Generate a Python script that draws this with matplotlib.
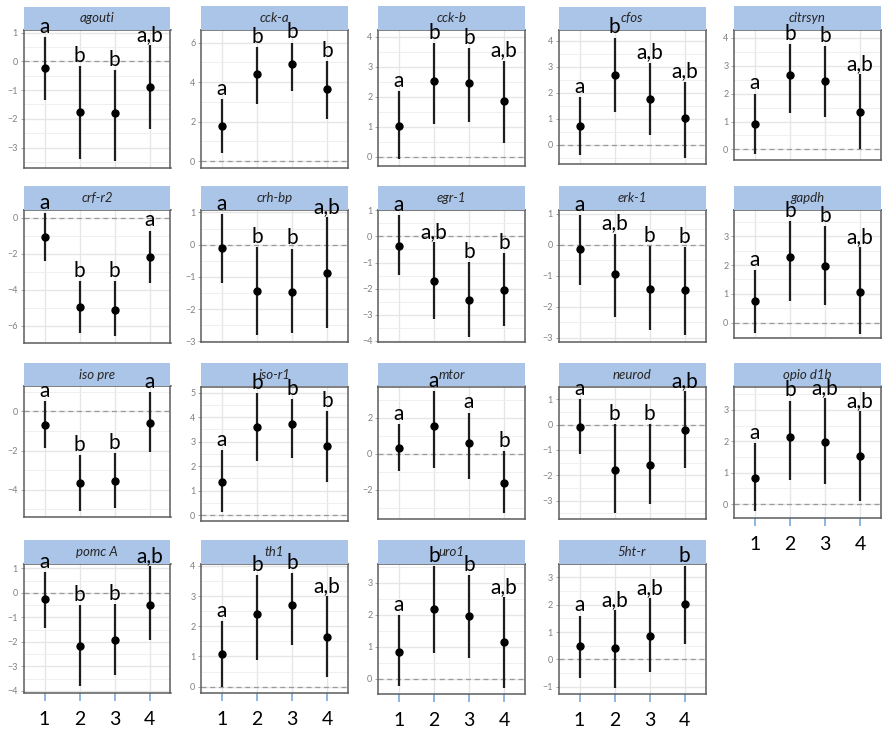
import matplotlib.pyplot as plt
from matplotlib.patches import Rectangle
from matplotlib.ticker import MultipleLocator

plt.rcParams['font.family'] = ['Lato', 'DejaVu Sans']

groups = [1, 2, 3, 4]
genes = ['agouti', 'cck-a', 'cck-b', 'cfos', 'citrsyn',
         'crf-r2', 'crh-bp', 'egr-1', 'erk-1', 'gapdh',
         'iso pre', 'iso-r1', 'mtor', 'neurod', 'opio d1b',
         'pomc A', 'th1', 'uro1', '5ht-r']

# estimate for each group, per gene
means = [
    [-0.22, -1.75, -1.81, -0.90],
    [1.78, 4.40, 4.92, 3.67],
    [1.04, 2.52, 2.47, 1.86],
    [0.72, 2.68, 1.76, 1.03],
    [0.91, 2.66, 2.45, 1.35],
    [-1.06, -4.95, -5.10, -2.19],
    [-0.10, -1.45, -1.47, -0.88],
    [-0.35, -1.71, -2.43, -2.05],
    [-0.15, -0.94, -1.42, -1.47],
    [0.74, 2.28, 1.97, 1.07],
    [-0.68, -3.66, -3.54, -0.59],
    [1.36, 3.59, 3.72, 2.83],
    [0.34, 1.54, 0.58, -1.62],
    [-0.09, -1.80, -1.58, -0.22],
    [0.84, 2.15, 1.99, 1.52],
    [-0.26, -2.18, -1.91, -0.48],
    [1.07, 2.40, 2.70, 1.65],
    [0.85, 2.17, 1.96, 1.16],
    [0.49, 0.40, 0.86, 2.01],
]
ci_low = [
    [-1.36, -3.40, -3.46, -2.34],
    [0.39, 2.91, 3.55, 2.13],
    [-0.08, 1.11, 1.17, 0.47],
    [-0.41, 1.25, 0.37, -0.50],
    [-0.17, 1.29, 1.17, 0.00],
    [-2.37, -6.39, -6.54, -3.61],
    [-1.19, -2.81, -2.74, -2.58],
    [-1.47, -3.15, -3.83, -3.41],
    [-1.29, -2.34, -2.74, -2.92],
    [-0.37, 0.76, 0.60, -0.41],
    [-1.88, -5.09, -4.94, -2.08],
    [0.11, 2.21, 2.32, 1.36],
    [-0.97, -0.78, -1.40, -3.26],
    [-1.17, -3.48, -3.15, -1.73],
    [-0.22, 0.76, 0.65, 0.10],
    [-1.43, -3.81, -3.35, -1.91],
    [0.00, 0.88, 1.38, 0.33],
    [-0.21, 0.82, 0.64, -0.27],
    [-0.67, -1.04, -0.45, 0.56],
]
ci_high = [
    [0.85, -0.16, -0.30, 0.56],
    [3.15, 5.78, 6.00, 5.08],
    [2.19, 3.79, 3.62, 3.20],
    [1.82, 4.12, 3.16, 2.43],
    [2.00, 3.77, 3.70, 2.70],
    [0.24, -3.49, -3.49, -0.71],
    [0.94, -0.07, -0.12, 0.85],
    [0.81, -0.22, -0.98, -0.64],
    [0.95, 0.35, -0.05, -0.08],
    [1.82, 3.53, 3.35, 2.62],
    [0.54, -2.22, -2.12, 0.97],
    [2.66, 4.98, 4.74, 4.25],
    [1.64, 3.50, 2.29, 0.15],
    [1.02, 0.01, 0.04, 1.32],
    [1.95, 3.29, 3.37, 2.95],
    [0.86, -0.50, -0.46, 1.10],
    [2.17, 3.71, 3.76, 3.00],
    [1.99, 3.52, 3.24, 2.56],
    [1.60, 1.80, 2.23, 3.41],
]
letters = [
    ['a', 'b', 'b', 'a,b'],
    ['a', 'b', 'b', 'b'],
    ['a', 'b', 'b', 'a,b'],
    ['a', 'b', 'a,b', 'a,b'],
    ['a', 'b', 'b', 'a,b'],
    ['a', 'b', 'b', 'a'],
    ['a', 'b', 'b', 'a,b'],
    ['a', 'a,b', 'b', 'b'],
    ['a', 'a,b', 'b', 'b'],
    ['a', 'b', 'b', 'a,b'],
    ['a', 'b', 'b', 'a'],
    ['a', 'b', 'b', 'b'],
    ['a', 'a', 'a', 'b'],
    ['a', 'b', 'b', 'a,b'],
    ['a', 'b', 'a,b', 'a,b'],
    ['a', 'b', 'b', 'a,b'],
    ['a', 'b', 'b', 'a,b'],
    ['a', 'b', 'b', 'a,b'],
    ['a', 'a,b', 'a,b', 'b'],
]

# axis ranges and tick spacing for each panel
ylims = [(-3.70, 1.09), (-0.35, 6.64), (-0.30, 4.22), (-0.75, 4.41), (-0.38, 4.28),
         (-6.93, 0.46), (-3.02, 1.09), (-4.02, 1.03), (-3.13, 1.13), (-0.55, 3.94),
         (-5.41, 1.27), (-0.23, 5.25), (-3.63, 3.74), (-3.74, 1.51), (-0.43, 3.74),
         (-4.08, 1.20), (-0.22, 4.08), (-0.47, 3.60), (-1.27, 3.51)]
steps = [1, 2, 1, 1, 1,
         2, 1, 1, 1, 1,
         2, 1, 2, 1, 1,
         1, 1, 1, 1]

# panel placement in pixels
W, H = 882, 733
col_left = [23.5, 201, 378, 558.5, 734]
panel_w = 147
row_top = [30, 209.5, 386.5, 563.5]
strip_h = 23.5
bottoms = [167.7, 168, 166, 164.3, 160,
           342.7, 342, 341.5, 341.7, 338.3,
           517.3, 520.7, 519.3, 519.3, 517.7,
           692.7, 693.3, 694, 694]
labelled = {'opio d1b', 'pomc A', 'th1', 'uro1', '5ht-r'}

strip_color = '#abc5e9'

fig = plt.figure(figsize=(W / 100, H / 100), dpi=100)

for i, gene in enumerate(genes):
    r, c = divmod(i, 5)
    top, bot, left = row_top[r], bottoms[i], col_left[c]
    ax = fig.add_axes([left / W, 1 - bot / H, panel_w / W, (bot - top) / H])

    ax.set_xlim(0.4, 4.6)
    ax.set_ylim(*ylims[i])
    ax.set_xticks(groups)
    ax.yaxis.set_major_locator(MultipleLocator(steps[i]))
    ax.yaxis.set_minor_locator(MultipleLocator(steps[i] / 2))
    ax.set_axisbelow(True)
    ax.grid(which='major', color='#e6e6e6', lw=1.0)
    ax.grid(which='minor', axis='y', color='#efefef', lw=0.7)
    for s in ax.spines.values():
        s.set_color('#5c5c5c')
        s.set_linewidth(1.1)

    ax.tick_params(axis='y', which='major', labelsize=6.5, labelcolor='#808080',
                   color='#9a9a9a', length=2, width=0.6, pad=2)
    ax.tick_params(axis='y', which='minor', length=0)
    if gene in labelled:
        ax.set_xticks(groups, [str(g) for g in groups])
        ax.tick_params(axis='x', length=6, width=1.4, color='#8db4e2',
                       labelsize=14, pad=7)
    else:
        ax.tick_params(axis='x', length=0, labelbottom=False)

    ax.axhline(0, color='#9a9a9a', lw=0.9, ls=(0, (4, 3)), zorder=2)
    ax.vlines(groups, ci_low[i], ci_high[i], color='#1e1e1e', lw=1.6, zorder=3)
    ax.plot(groups, means[i], 'o', color='black', ms=5, zorder=4)

    # facet strip
    frac = strip_h / (bot - top)
    ax.add_patch(Rectangle((0, 1), 1, frac, transform=ax.transAxes,
                           facecolor=strip_color, edgecolor='none',
                           clip_on=False, zorder=5))
    ax.text(0.5, 1 + frac / 2, gene, transform=ax.transAxes, ha='center',
            va='center', fontsize=9.5, style='italic', color='#262626', zorder=6)

    for g, hi, lab in zip(groups, ci_high[i], letters[i]):
        ax.annotate(lab, (g, hi), xytext=(0, 3), textcoords='offset points',
                    ha='center', va='baseline', fontsize=15, color='black',
                    annotation_clip=False, zorder=10)

fig.savefig('out.png', dpi=100)
